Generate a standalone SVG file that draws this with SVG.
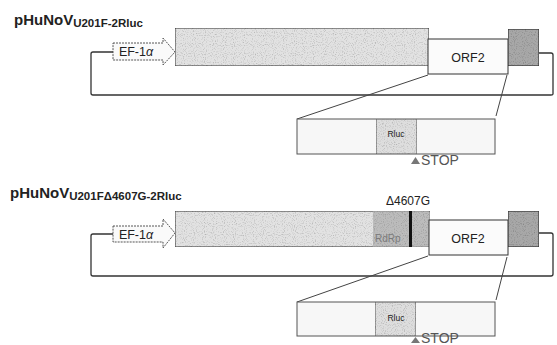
<svg xmlns="http://www.w3.org/2000/svg" width="557" height="345" viewBox="0 0 557 345">
<defs>
<filter id="grain" x="0" y="0" width="100%" height="100%">
<feTurbulence type="fractalNoise" baseFrequency="0.9" numOctaves="1" seed="3" result="n"/>
<feColorMatrix in="n" type="matrix" values="0 0 0 0 0  0 0 0 0 0  0 0 0 0 0  0 0 0 -1.2 0.6" result="m"/>
<feComposite in="m" in2="SourceGraphic" operator="in" result="t"/>
<feBlend in="SourceGraphic" in2="t" mode="multiply"/>
</filter>
</defs>
<style>
text{font-family:"Liberation Sans",Arial,sans-serif;fill:#222}
.title{font-weight:bold;font-size:15px}
.sub{font-weight:bold;font-size:11.5px}
.line{fill:none;stroke:#333;stroke-width:1.3}
.thin{fill:none;stroke:#444;stroke-width:1}
.orf1{fill:#e2e2e2;stroke:#333;stroke-width:1}
.rdrp{fill:#bcbcbc;stroke:none}
.orf2{fill:#fbfbfb;stroke:#333;stroke-width:1}
.dark{fill:#a8a8a8;stroke:#333;stroke-width:1.2}
.exp{fill:#f7f7f7;stroke:#555;stroke-width:1}
.rluc{fill:#dedede;stroke:#555;stroke-width:1}
.prom{fill:#fafafa;stroke:#444;stroke-width:0.9;stroke-dasharray:2 1}
.lab{font-size:12.5px}
.small{font-size:8.5px}
.stop{font-size:14px;fill:#555}
</style>

<g id="title1"><text x="14" y="25"><tspan class="title">pHuNoV</tspan><tspan class="sub" dy="2">U201F-2Rluc</tspan></text></g>

<g id="connectors">
<path class="line" d="M539,53 H551 Q553,53 553,55 V94 Q553,95 551,95 H93 Q91,95 91,93 V54 Q91,52 93,52 H113"/>
<line class="thin" x1="428" y1="75" x2="297" y2="119"/>
<line class="thin" x1="507" y1="75" x2="496" y2="116"/>
<path class="line" d="M539,233 H551 Q553,233 553,235 V274 Q553,276 551,276 H93 Q91,276 91,274 V236 Q91,234 93,234 H113"/>
<line class="thin" x1="428" y1="256" x2="297" y2="302"/>
<line class="thin" x1="507" y1="257" x2="496" y2="300"/>
</g>

<g id="ef1a_1"><path class="prom" d="M113,43 H163 V38 L175,52 L163,65 V60 H113 Z"/><text class="lab" x="136" y="56" text-anchor="middle">EF-1<tspan font-style="italic">α</tspan></text></g>
<g id="orf1_1"><rect class="orf1" x="175" y="28" width="254" height="38" filter="url(#grain)"/></g>
<g id="orf2_1"><rect class="orf2" x="428" y="39" width="80" height="35"/><text class="lab" x="468" y="62" text-anchor="middle">ORF2</text></g>
<g id="orf3_1"><rect class="dark" x="508" y="29" width="31" height="37" filter="url(#grain)"/></g>
<g id="expand_1">
<rect class="exp" x="297" y="119" width="198" height="35"/>
<rect class="rluc" x="376" y="119" width="41" height="35" filter="url(#grain)"/>
<text class="small" x="396" y="137" text-anchor="middle">Rluc</text>
<path d="M411,164 L415.5,157 L420,164 Z" fill="#777"/>
<text class="stop" x="421" y="165">STOP</text>
</g>

<g id="title2"><text x="10" y="198"><tspan class="title">pHuNoV</tspan><tspan class="sub" dy="2">U201FΔ4607G-2Rluc</tspan></text></g>

<g id="ef1a_2"><path class="prom" d="M113,226 H163 V219 L175,233 L163,248 V242 H113 Z"/><text class="lab" x="136" y="239" text-anchor="middle">EF-1<tspan font-style="italic">α</tspan></text></g>
<g id="orf1_2">
<rect class="orf1" x="175" y="211" width="255" height="36" filter="url(#grain)"/>
<rect class="rdrp" x="373" y="211.5" width="56.5" height="35" filter="url(#grain)"/>
<rect x="409" y="211" width="3" height="36" fill="#111"/>
<text x="375" y="242" font-size="10" style="fill:#7a7a7a">RdRp</text>
<text x="408" y="205" font-size="12" text-anchor="middle">Δ4607G</text>
</g>
<g id="orf2_2"><rect class="orf2" x="429" y="220" width="79" height="35"/><text class="lab" x="468" y="243" text-anchor="middle">ORF2</text></g>
<g id="orf3_2"><rect class="dark" x="508" y="211" width="31" height="36" filter="url(#grain)"/></g>
<g id="expand_2">
<rect class="exp" x="297" y="302" width="198" height="34"/>
<rect class="rluc" x="375" y="302" width="41" height="34" filter="url(#grain)"/>
<text class="small" x="396" y="321" text-anchor="middle">Rluc</text>
<path d="M411,343 L415.5,337 L420,343 Z" fill="#777"/>
<text class="stop" x="421" y="342.5" font-size="11.5">STOP</text>
</g>
</svg>
